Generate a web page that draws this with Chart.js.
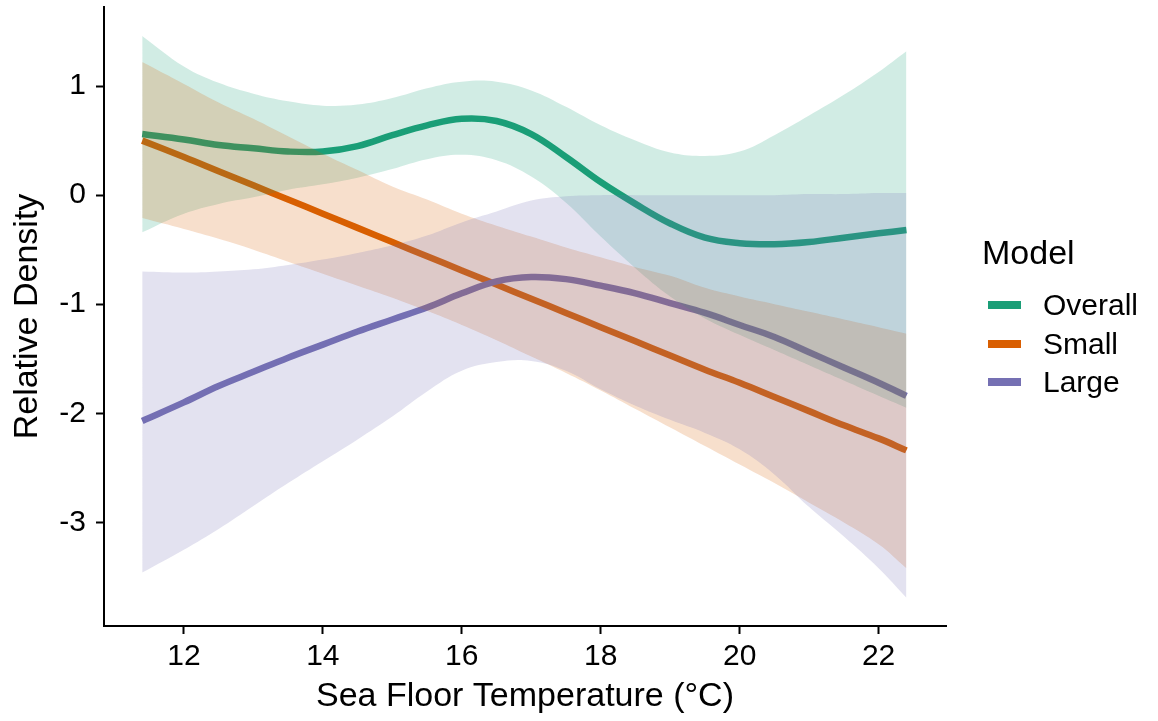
<!DOCTYPE html>
<html lang="en">
<head>
<meta charset="utf-8">
<title>Relative Density vs Sea Floor Temperature</title>
<script src="https://cdn.jsdelivr.net/npm/chart.js@4.4.0/dist/chart.umd.min.js"></script>
<style>
  html, body { margin: 0; padding: 0; background: #fff; }
  #quadro { position: relative; width: 1158px; height: 721px; }
  #legenda { position: absolute; left: 0; top: 0; font-family: 'Liberation Sans', Arial, sans-serif; color: #000; }
  #legenda .titulo { position: absolute; left: 982px; top: 235px; font-size: 34px; line-height: 34px; white-space: nowrap; }
  #legenda .item { position: absolute; left: 988px; height: 30px; white-space: nowrap; }
  #legenda .chave { position: absolute; left: 0; top: 11px; width: 33px; height: 8px; }
  #legenda .rotulo { position: absolute; left: 55px; top: 0; font-size: 30px; line-height: 30px; }
</style>
</head>
<body>
<div id="quadro">
  <canvas id="grafico" width="1158" height="721"></canvas>
  <div id="legenda"></div>
</div>
<script>
/* Dados: temperatura (°C) e densidade relativa por modelo */
const TEMPERATURAS = [11.4, 12, 12.5, 13, 13.5, 14, 14.5, 15, 15.5, 16, 16.5, 17, 17.5, 18, 18.5, 19, 19.5, 20, 20.5, 21, 21.5, 22, 22.4];

const GERAL     = [0.56, 0.51, 0.46, 0.43, 0.40, 0.40, 0.45, 0.55, 0.64, 0.70, 0.68, 0.56, 0.35, 0.12, -0.08, -0.26, -0.39, -0.44, -0.45, -0.43, -0.39, -0.35, -0.32];
const GERAL_SUP = [1.46, 1.18, 1.03, 0.93, 0.86, 0.82, 0.83, 0.89, 0.98, 1.04, 1.04, 0.96, 0.81, 0.64, 0.50, 0.39, 0.36, 0.40, 0.55, 0.73, 0.92, 1.13, 1.32];
const GERAL_INF = [-0.34, -0.17, -0.08, -0.02, 0.05, 0.10, 0.16, 0.24, 0.33, 0.37, 0.32, 0.17, -0.07, -0.38, -0.67, -0.93, -1.13, -1.28, -1.42, -1.56, -1.70, -1.84, -1.95];

const PEQUENO     = [0.50, 0.35, 0.22, 0.09, -0.04, -0.17, -0.30, -0.43, -0.56, -0.69, -0.82, -0.95, -1.08, -1.21, -1.34, -1.47, -1.60, -1.72, -1.85, -1.98, -2.11, -2.23, -2.34];
const PEQUENO_SUP = [1.22, 1.02, 0.85, 0.70, 0.54, 0.38, 0.23, 0.08, -0.04, -0.17, -0.28, -0.38, -0.48, -0.57, -0.66, -0.74, -0.85, -0.93, -1.00, -1.07, -1.14, -1.21, -1.27];
const PEQUENO_INF = [-0.21, -0.31, -0.40, -0.50, -0.61, -0.72, -0.83, -0.94, -1.06, -1.19, -1.33, -1.48, -1.63, -1.79, -1.96, -2.13, -2.30, -2.47, -2.64, -2.82, -3.00, -3.20, -3.42];

const GRANDE     = [-2.07, -1.90, -1.75, -1.62, -1.49, -1.37, -1.25, -1.14, -1.03, -0.90, -0.79, -0.75, -0.77, -0.83, -0.90, -0.99, -1.08, -1.19, -1.30, -1.44, -1.58, -1.72, -1.84];
const GRANDE_SUP = [-0.70, -0.71, -0.70, -0.68, -0.64, -0.59, -0.53, -0.46, -0.37, -0.25, -0.15, -0.05, -0.01, 0.00, 0.00, 0.00, 0.00, 0.00, 0.00, 0.01, 0.01, 0.02, 0.02];
const GRANDE_INF = [-3.46, -3.25, -3.06, -2.85, -2.64, -2.44, -2.24, -2.03, -1.80, -1.61, -1.53, -1.52, -1.61, -1.78, -1.93, -2.06, -2.18, -2.33, -2.56, -2.86, -3.13, -3.42, -3.69];

const MODELOS = ['Overall', 'Small', 'Large'];
const CORES = ['#1B9E77', '#D95F02', '#7570B3'];
const CORES_FAIXA = ['rgba(27, 158, 119, 0.2)', 'rgba(217, 95, 2, 0.2)', 'rgba(117, 112, 179, 0.2)'];

const TICKS_X = [12, 14, 16, 18, 20, 22];
const TICKS_Y = [-3, -2, -1, 0, 1];

const FONTE = "'Liberation Sans', Arial, sans-serif";
Chart.defaults.font.family = FONTE;
Chart.defaults.color = '#000';

const pontos = (valores) => TEMPERATURAS.map((x, i) => ({ x, y: valores[i] }));

/* --- Faixas de confianca (desenhadas por cima das linhas, como no original) --- */
function faixa(sup, inf, indiceInf, cor, ordem) {
  return [
    {
      label: 'faixa-sup', data: pontos(sup), borderWidth: 0, pointRadius: 0,
      backgroundColor: cor, fill: indiceInf, order: ordem, tension: 0.4,
    },
    {
      label: 'faixa-inf', data: pontos(inf), borderWidth: 0, pointRadius: 0,
      fill: false, order: ordem, tension: 0.4,
    },
  ];
}

function linha(valores, i, ordem) {
  return {
    label: MODELOS[i], data: pontos(valores), borderColor: CORES[i], backgroundColor: CORES[i],
    borderWidth: 6.5, borderCapStyle: 'butt', pointRadius: 0, fill: false,
    order: ordem, tension: 0.4,
  };
}

const datasets = [
  ...faixa(GERAL_SUP, GERAL_INF, 1, CORES_FAIXA[0], 3),
  ...faixa(PEQUENO_SUP, PEQUENO_INF, 3, CORES_FAIXA[1], 2),
  ...faixa(GRANDE_SUP, GRANDE_INF, 5, CORES_FAIXA[2], 1),
  linha(GERAL, 0, 6),
  linha(PEQUENO, 1, 5),
  linha(GRANDE, 2, 4),
];

/* tira a folga que o Chart.js reserva para os rotulos das pontas */
const semFolga = (eixo) => {
  eixo.paddingTop = 0;
  eixo.paddingBottom = 0;
  eixo.paddingLeft = 0;
  eixo.paddingRight = 0;
};

new Chart(document.getElementById('grafico').getContext('2d'), {
  type: 'line',
  data: { datasets },
  options: {
    responsive: false,
    animation: false,
    layout: { padding: { top: 7, right: 212, left: 0, bottom: 0 } },
    plugins: { legend: { display: false }, tooltip: { enabled: false } },
    scales: {
      x: {
        type: 'linear', min: 10.85, max: 22.97,
        afterBuildTicks: (eixo) => { eixo.ticks = TICKS_X.map(v => ({ value: v })); },
        afterFit: (eixo) => { eixo.height = 95; semFolga(eixo); },
        ticks: { font: { size: 30 }, color: '#000', padding: 5 },
        grid: { display: true, drawOnChartArea: false, drawTicks: true, tickLength: 8, tickWidth: 2, tickColor: '#000' },
        border: { display: true, color: '#000', width: 2 },
        title: { display: true, text: 'Sea Floor Temperature (°C)', font: { size: 34 }, color: '#000', padding: { top: 0, bottom: 4 } },
      },
      y: {
        type: 'linear', min: -3.95, max: 1.725,
        afterBuildTicks: (eixo) => { eixo.ticks = TICKS_Y.map(v => ({ value: v })); },
        afterFit: (eixo) => { eixo.width = 104; semFolga(eixo); },
        ticks: { font: { size: 30 }, color: '#000', padding: 10 },
        grid: { display: true, drawOnChartArea: false, drawTicks: true, tickLength: 8, tickWidth: 2, tickColor: '#000' },
        border: { display: true, color: '#000', width: 2 },
        title: { display: true, text: 'Relative Density', font: { size: 34 }, color: '#000', padding: { top: 7, bottom: 0 } },
      },
    },
  },
});

/* --- Legenda em HTML --- */
const legenda = document.getElementById('legenda');
legenda.innerHTML = '<div class="titulo">Model</div>' + MODELOS.map((nome, i) =>
  '<div class="item" style="top:' + (290 + i * 38.5) + 'px">' +
  '<span class="chave" style="background:' + CORES[i] + '"></span>' +
  '<span class="rotulo">' + nome + '</span></div>'
).join('');
</script>
</body>
</html>
